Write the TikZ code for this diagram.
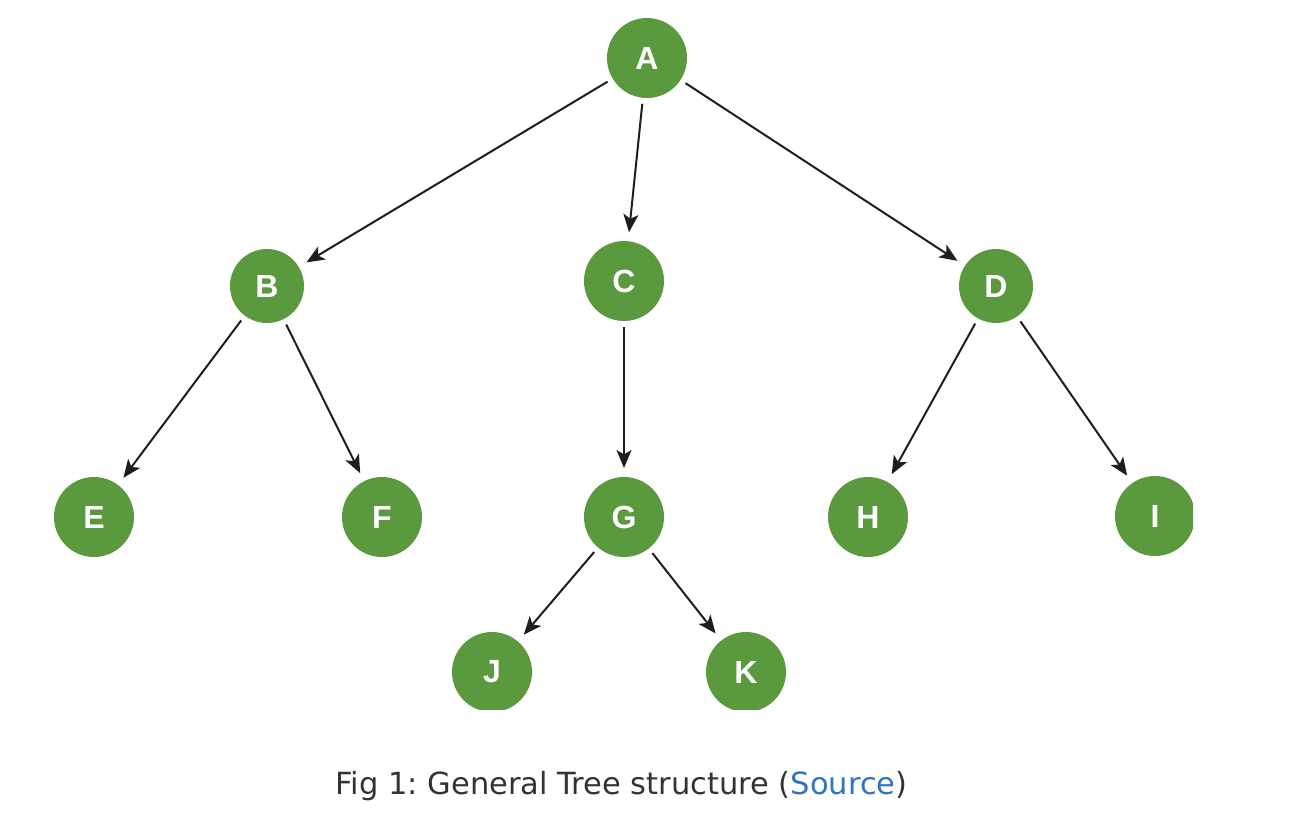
\documentclass[tikz,border=0pt]{standalone}
\usepackage{fontspec}
\setmainfont{DejaVu Sans}
\newfontfamily\labfont{Liberation Sans}
\usetikzlibrary{arrows.meta}
\definecolor{treegreen}{HTML}{5A993D}
\definecolor{captiongray}{HTML}{333333}
\definecolor{linkblue}{HTML}{2F74C0}
\definecolor{arrowgray}{HTML}{1E1E1E}
\tikzset{
  tnode/.style={circle, fill=treegreen, draw=none, minimum size=80pt, inner sep=0pt, outer sep=0pt,
    text=white, font=\labfont\bfseries\fontsize{32}{32}\selectfont},
  tsmall/.style={tnode, minimum size=74pt},
  arr/.style={draw=arrowgray, line width=2pt, shorten <=6pt, shorten >=9pt,
    -{Stealth[length=18pt,width=15pt,inset=4.5pt]}}
}
\begin{document}
\frenchspacing
\begin{tikzpicture}[x=1pt,y=-1pt]
\useasboundingbox (0,0) rectangle (1304,812);
\begin{scope}
\clip (0,0) rectangle (1193,709);
\node[tnode]  (A) at (647,58) {A};
\node[tsmall] (B) at (267,286) {B};
\node[tnode]  (C) at (624,281) {C};
\node[tsmall] (D) at (996,286) {D};
\node[tnode]  (E) at (94,517) {E};
\node[tnode]  (F) at (382,517) {F};
\node[tnode]  (G) at (624,517) {G};
\node[tnode]  (H) at (868,517) {H};
\node[tnode]  (I) at (1155,516) {I};
\node[tnode]  (J) at (492,672) {J};
\node[tnode]  (K) at (746,672) {K};
\draw[arr] (A) -- (B);
\draw[arr] (A) -- (C);
\draw[arr] (A) -- (D);
\draw[arr] (B) -- (E);
\draw[arr] (B) -- (F);
\draw[arr] (C) -- (G);
\draw[arr] (D) -- (H);
\draw[arr] (D) -- (I);
\draw[arr] (G) -- (J);
\draw[arr] (G) -- (K);
\end{scope}
\node[text=captiongray, font=\fontsize{30.5}{36}\selectfont, inner sep=0pt] (cap) at (621.5,786)
  {Fig 1: General Tree structure (\textcolor{linkblue}{Source})};
\end{tikzpicture}
\end{document}
